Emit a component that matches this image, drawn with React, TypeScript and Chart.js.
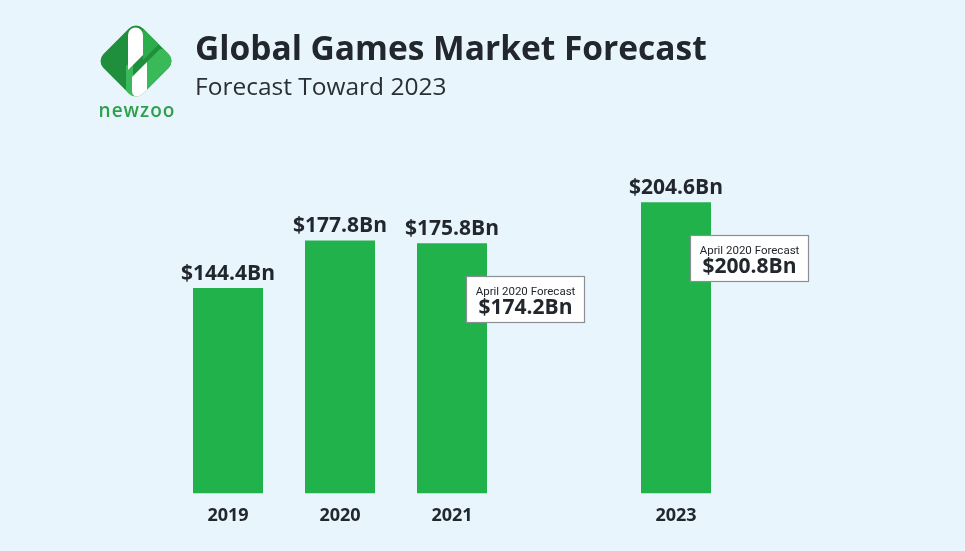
import React, { useEffect, useRef } from "react";
import { Chart, registerables } from "chart.js";

Chart.register(...registerables);

const years = ["2019", "2020", "2021", "2022", "2023"];
const revenue: (number | null)[] = [144.4, 177.8, 175.8, null, 204.6];
const aprilForecast: (number | null)[] = [null, null, 174.2, null, 200.8];
const forecastLabel = "April 2020 Forecast";
const titleText = "Global Games Market Forecast";
const subtitleText = "Forecast Toward 2023";
const brandText = "newzoo";

const BG = "#e8f5fc";
const GREEN = "#22b24c";
const DARK = "#22272d";

const fmt = (v: number) => `$${v.toFixed(1)}Bn`;

const labelPlugin = {
  id: "barLabels",
  afterDatasetsDraw(chart: any) {
    const ctx = chart.ctx as CanvasRenderingContext2D;
    const meta = chart.getDatasetMeta(0);
    ctx.save();
    meta.data.forEach((bar: any, i: number) => {
      const v = revenue[i];
      if (v == null) return;
      const { x, y } = bar.getProps(["x", "y"], true);
      ctx.fillStyle = DARK;
      ctx.font = "bold 21px 'Open Sans'";
      ctx.textAlign = "center";
      ctx.textBaseline = "alphabetic";
      ctx.fillText(fmt(v), x, y - 8);
      const f = aprilForecast[i];
      if (f != null) {
        const bx = Math.round(x + 14) + 0.5;
        const by = Math.round(y + 33) + 0.5;
        const bw = 118;
        const bh = 46;
        ctx.fillStyle = "#ffffff";
        ctx.fillRect(bx, by, bw, bh);
        ctx.strokeStyle = "#8a8f94";
        ctx.lineWidth = 1.2;
        ctx.strokeRect(bx, by, bw, bh);
        ctx.fillStyle = DARK;
        ctx.font = "11.5px Roboto";
        ctx.fillText(forecastLabel, bx + bw / 2, by + 18);
        ctx.font = "bold 21px 'Open Sans'";
        ctx.fillText(fmt(f), bx + bw / 2, by + 37);
      }
    });
    ctx.restore();
  },
};

function Logo() {
  return (
    <svg
      width={100}
      height={100}
      viewBox="86 11 100 100"
      style={{ position: "absolute", left: 86, top: 11 }}
    >
      <defs>
        <clipPath id="dia">
          <rect x={108} y={33} width={56} height={56} rx={10} transform="rotate(45 136 61)" />
        </clipPath>
      </defs>
      <rect x={108} y={33} width={56} height={56} rx={10} transform="rotate(45 136 61)" fill="#1f8e3d" />
      <g clipPath="url(#dia)">
        <polygon points="143,18 158,18 158,45 143,60" fill="#2cad4d" />
        <polygon points="147,62 160,49 186,49 186,76 147,104" fill="#3ab958" />
        <polygon points="126,66 133,60 133,104 126,104" fill="#3ab958" />
        <path d="M128,70 L128,35 A7.5,7.5 0 0 1 143,35 L143,55 Z" fill="#ffffff" />
        <path d="M132,77 L147,62 L147,91 A7.5,7.5 0 0 1 132,91 Z" fill="#ffffff" />
      </g>
    </svg>
  );
}

export default function App() {
  const ref = useRef<HTMLCanvasElement | null>(null);

  useEffect(() => {
    if (!ref.current) return;
    const chart = new Chart(ref.current, {
      type: "bar",
      data: {
        labels: years,
        datasets: [
          {
            data: revenue,
            backgroundColor: GREEN,
            borderWidth: 0,
            categoryPercentage: 1,
            barPercentage: 0.625,
          },
        ],
      },
      options: {
        responsive: false,
        animation: false,
        devicePixelRatio: 1,
        layout: { padding: { left: 172, right: 233, top: 152, bottom: 12 } },
        plugins: {
          legend: { display: false },
          tooltip: { enabled: false },
          title: { display: false },
        },
        scales: {
          x: {
            grid: { display: false, drawTicks: false },
            border: { display: false },
            ticks: {
              color: DARK,
              font: { family: "'Open Sans'", size: 18, weight: "bold" },
              padding: 12,
              callback: (_v: any, i: number) => (revenue[i] == null ? "" : years[i]),
            },
          },
          y: {
            display: false,
            min: 0,
            max: 240,
          },
        },
      },
      plugins: [labelPlugin],
    });
    return () => chart.destroy();
  }, []);

  return (
    <div
      style={{
        position: "absolute",
        left: 0,
        top: 0,
        width: 965,
        height: 551,
        background: BG,
        overflow: "hidden",
      }}
    >
      <canvas
        ref={ref}
        width={965}
        height={551}
        style={{ position: "absolute", left: 0, top: 0, width: 965, height: 551 }}
      />
      <Logo />
      <div
        style={{
          position: "absolute",
          left: 96,
          top: 101,
          width: 82,
          textAlign: "center",
          fontFamily: "'Open Sans'",
          fontWeight: 600,
          fontSize: 19,
          lineHeight: "19px",
          letterSpacing: 1,
          color: "#2e9f4b",
        }}
      >
        {brandText}
      </div>
      <div
        style={{
          position: "absolute",
          left: 195,
          top: 31,
          fontFamily: "'Open Sans'",
          fontWeight: 700,
          fontSize: 33.5,
          lineHeight: "33.5px",
          color: DARK,
          whiteSpace: "nowrap",
        }}
      >
        {titleText}
      </div>
      <div
        style={{
          position: "absolute",
          left: 195,
          top: 74,
          fontFamily: "'Open Sans'",
          fontWeight: 400,
          fontSize: 24.5,
          lineHeight: "24.5px",
          color: "#2a2f34",
          whiteSpace: "nowrap",
        }}
      >
        {subtitleText}
      </div>
    </div>
  );
}
